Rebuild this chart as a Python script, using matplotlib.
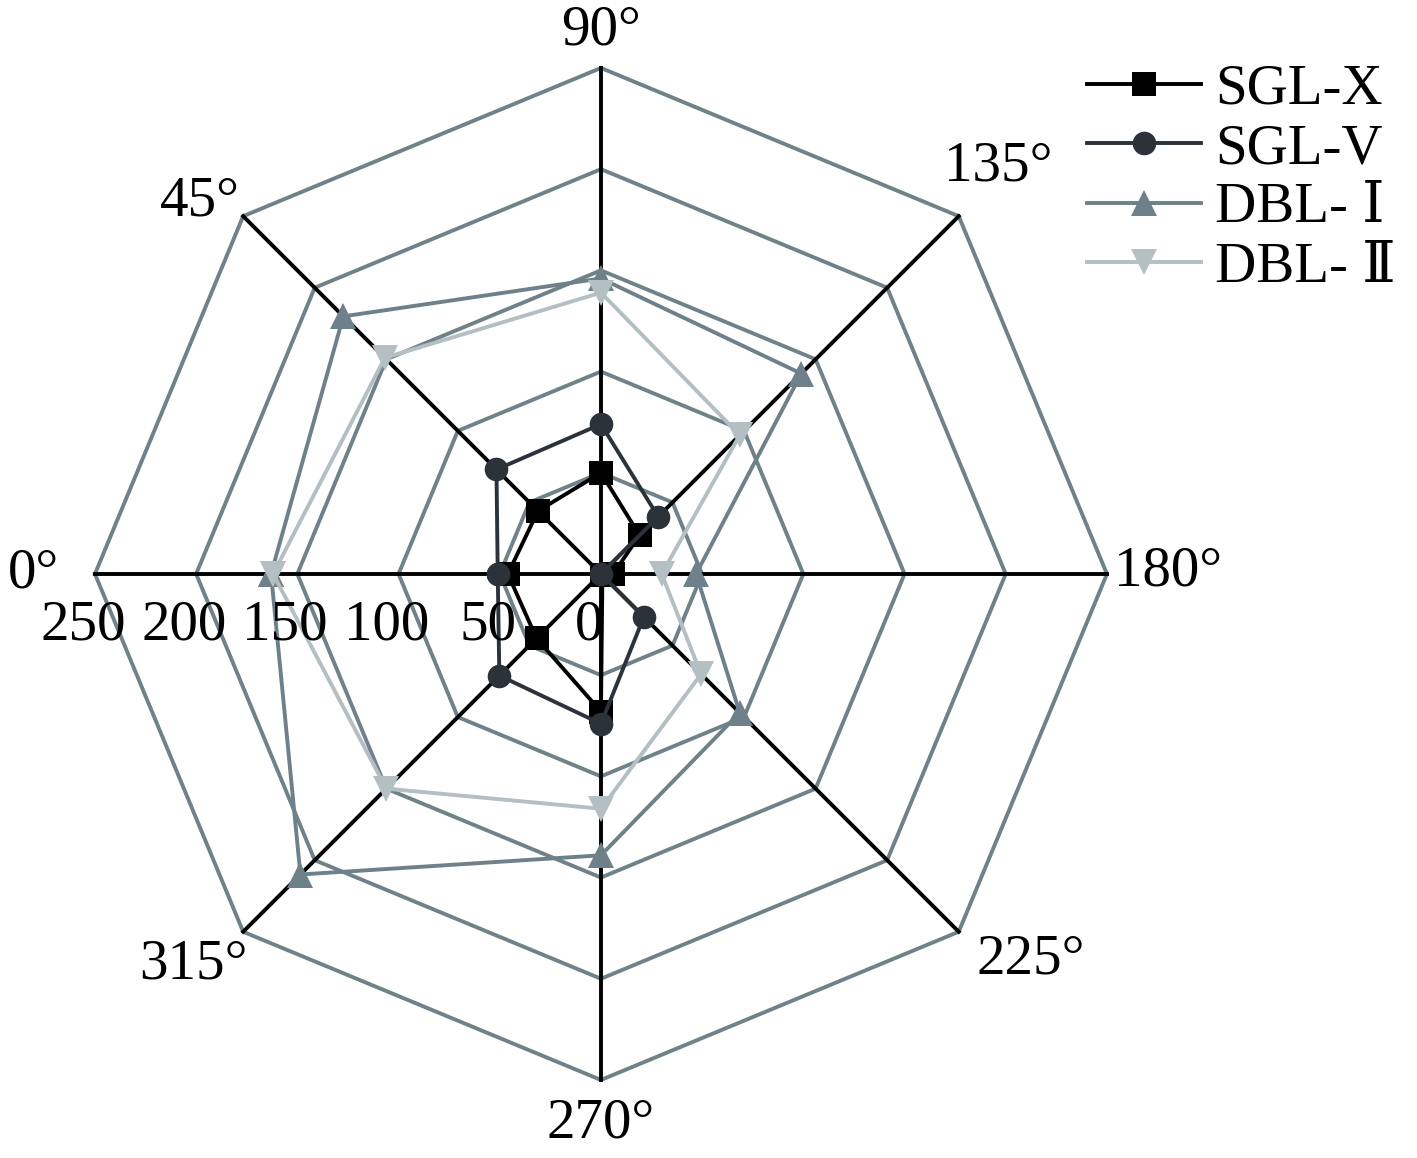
import numpy as np
import matplotlib.pyplot as plt

plt.rcParams['font.family'] = ['Liberation Serif', 'DejaVu Serif']

# directions (deg) and their labels
angles_deg = [0, 45, 90, 135, 180, 225, 270, 315]
angle_labels = ["0°", "45°", "90°", "135°", "180°", "225°", "270°", "315°"]
rings = [50, 100, 150, 200, 250]
ring_ticks = [250, 200, 150, 100, 50, 0]

# series values
sgl_x = [46, 44, 50, 27, 6, 1, 68, 45]
sgl_v = [51, 73, 74, 40, 0, 30, 74, 71]
dbl_1 = [163, 180, 146, 140, 47, 97, 139, 210]
dbl_2 = [162, 151, 139, 97, 30, 70, 116, 150]

names = ["SGL-X", "SGL-V", "DBL- Ⅰ", "DBL- Ⅱ"]
colors = ["#000000", "#2c3239", "#6e8089", "#b3bfc3"]
markers = ["s", "o", "^", "v"]
msizes = [17, 17, 19, 19]

# label offsets from the outer vertex, in pixels (right, up)
label_off = {0: (-62, 0), 45: (-43, 15), 90: (0, 37), 135: (39, 50),
             180: (61, 2), 225: (72, -28), 270: (0, -44), 315: (-50, -33)}

fig = plt.figure(figsize=(14.17, 11.58), dpi=100)
ax = fig.add_axes([0.067, 0.0674, 0.7142, 0.8739], projection='polar')
ax.set_theta_offset(np.pi)
ax.set_theta_direction(-1)
ax.set_ylim(0, 250)
ax.axis('off')

theta = np.deg2rad(angles_deg)
closed = np.append(theta, theta[0])

# octagon grid
for r in rings:
    ax.plot(closed, [r] * len(closed), color="#6f8289", lw=2.8, clip_on=False, zorder=1)
# spokes
for t in theta:
    ax.plot([t, t], [0, 250], color="black", lw=2.8, clip_on=False, zorder=2)

for vals, name, c, m, ms in zip([sgl_x, sgl_v, dbl_1, dbl_2], names, colors, markers, msizes):
    ax.plot(closed, vals + vals[:1], color=c, lw=2.8, marker=m, markersize=ms,
            markeredgewidth=0, label=name, clip_on=False, zorder=3)

px = 72 / 100
for a, t, lab in zip(angles_deg, theta, angle_labels):
    dx, dy = label_off[a]
    ax.annotate(lab, xy=(t, 250), xytext=(dx * px, dy * px), textcoords="offset points",
                ha="center", va="center", fontsize=41, annotation_clip=False)

for v in ring_ticks:
    ax.annotate(str(v), xy=(0, v + 6), xytext=(0, -37), textcoords="offset points",
                ha="center", va="center", fontsize=41, annotation_clip=False)

fig.legend(loc="upper left", bbox_to_anchor=(0.767, 0.945), frameon=False,
           fontsize=41, handlelength=2.0, handletextpad=0.25, labelspacing=0.13,
           borderpad=0, borderaxespad=0)

fig.savefig("out.png", dpi=100)
